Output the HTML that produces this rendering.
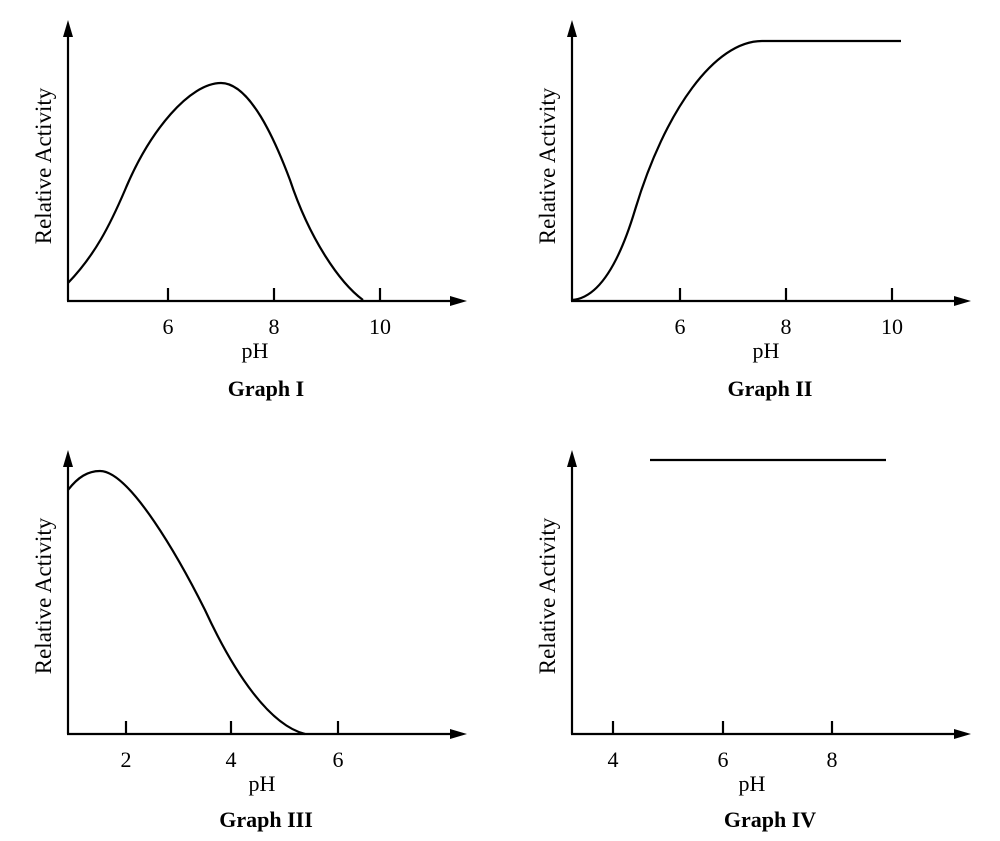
<!DOCTYPE html>
<html><head><meta charset="utf-8"><style>
html,body{margin:0;padding:0;background:#fff;}
svg{display:block;}
text{font-family:"Liberation Serif",serif;fill:#000;}
</style></head><body>
<svg width="1000" height="841" viewBox="0 0 1000 841" xmlns="http://www.w3.org/2000/svg">
<g stroke="#000" stroke-width="2.2" fill="none">
<!-- Graph I -->
<line x1="68" y1="301" x2="68" y2="30"/>
<line x1="67" y1="301" x2="455" y2="301"/>
<line x1="168" y1="288" x2="168" y2="301"/><line x1="274" y1="288" x2="274" y2="301"/><line x1="380" y1="288" x2="380" y2="301"/>
<path d="M68,283 C95,255 110,225 125,190 C150,130 190,83 221,83 C250,83 275,140 290,180 C310,240 340,283 363,300"/>
<!-- Graph II -->
<line x1="572" y1="301" x2="572" y2="30"/>
<line x1="571" y1="301" x2="959" y2="301"/>
<line x1="680" y1="288" x2="680" y2="301"/><line x1="786" y1="288" x2="786" y2="301"/><line x1="892" y1="288" x2="892" y2="301"/>
<path d="M572,300 C600,298 620,260 635,210 C665,110 715,41 762,41 L901,41"/>
<!-- Graph III -->
<line x1="68" y1="734" x2="68" y2="460"/>
<line x1="67" y1="734" x2="455" y2="734"/>
<line x1="126" y1="721" x2="126" y2="734"/><line x1="231" y1="721" x2="231" y2="734"/><line x1="338" y1="721" x2="338" y2="734"/>
<path d="M68,490 C78,477 88,471 100,471 C130,471 180,560 205,610 C235,675 270,725 305,734"/>
<!-- Graph IV -->
<line x1="572" y1="734" x2="572" y2="460"/>
<line x1="571" y1="734" x2="959" y2="734"/>
<line x1="613" y1="721" x2="613" y2="734"/><line x1="723" y1="721" x2="723" y2="734"/><line x1="832" y1="721" x2="832" y2="734"/>
<line x1="650" y1="460" x2="886" y2="460"/>
</g>
<g fill="#000">
<polygon points="68,20 63,37 73,37"/><polygon points="467,301 450,296 450,306"/>
<polygon points="572,20 567,37 577,37"/><polygon points="971,301 954,296 954,306"/>
<polygon points="68,450 63,467 73,467"/><polygon points="467,734 450,729 450,739"/>
<polygon points="572,450 567,467 577,467"/><polygon points="971,734 954,729 954,739"/>
</g>
<g font-size="22" text-anchor="middle">
<text x="168" y="334">6</text><text x="274" y="334">8</text><text x="380" y="334">10</text>
<text x="255" y="358">pH</text>
<text x="680" y="334">6</text><text x="786" y="334">8</text><text x="892" y="334">10</text>
<text x="766" y="358">pH</text>
<text x="126" y="767">2</text><text x="231" y="767">4</text><text x="338" y="767">6</text>
<text x="262" y="791">pH</text>
<text x="613" y="767">4</text><text x="723" y="767">6</text><text x="832" y="767">8</text>
<text x="752" y="791">pH</text>
<text transform="translate(51,166) rotate(-90)" font-size="23">Relative Activity</text>
<text transform="translate(555,166) rotate(-90)" font-size="23">Relative Activity</text>
<text transform="translate(51,596) rotate(-90)" font-size="23">Relative Activity</text>
<text transform="translate(555,596) rotate(-90)" font-size="23">Relative Activity</text>
</g>
<g font-size="22" font-weight="bold" text-anchor="middle">
<text x="266" y="396">Graph I</text>
<text x="770" y="396">Graph II</text>
<text x="266" y="827">Graph III</text>
<text x="770" y="827">Graph IV</text>
</g>
</svg>
</body></html>
